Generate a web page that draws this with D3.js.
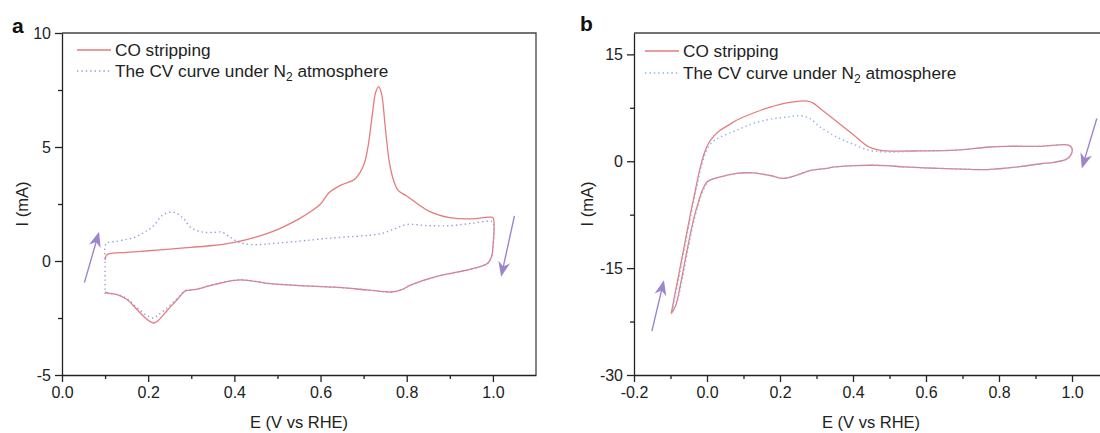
<!DOCTYPE html>
<html>
<head>
<meta charset="utf-8">
<script src="https://cdn.jsdelivr.net/npm/d3@7/dist/d3.min.js"></script>
<style>
  body { margin: 0; background: #fff; }
  svg { display: block; font-family: "Liberation Sans", Arial, sans-serif; }
  .axis text { font-size: 16px; fill: #222; }
  .axis path, .axis line { stroke: #222; stroke-width: 1.3; }
  .frame { stroke: #444; stroke-width: 1.3; fill: none; }
  .legend-text { font-size: 17.2px; fill: #222; }
  .axis-title { font-size: 16.5px; fill: #222; }
  .panel-label { font-size: 21px; font-weight: bold; fill: #111; }
</style>
</head>
<body>
<div id="chart"></div>
<script>
// ---- panel a : CO stripping vs N2 CV (E in V vs RHE, I in mA)
const aCoE = [0.100, 0.103, 0.110, 0.15, 0.20, 0.25, 0.30, 0.35, 0.40, 0.45, 0.50, 0.55, 0.58, 0.60, 0.62, 0.65,
    0.68, 0.70, 0.71, 0.72, 0.728, 0.735, 0.742, 0.75, 0.76, 0.77, 0.78, 0.80, 0.85, 0.90, 0.95, 0.99, 1.000,
    1.000, 0.997, 0.988, 0.97, 0.942, 0.90, 0.864, 0.81, 0.787, 0.763, 0.709, 0.632, 0.554, 0.477, 0.415,
    0.36, 0.321, 0.302, 0.287, 0.267, 0.244, 0.221, 0.213, 0.198, 0.174, 0.151, 0.128, 0.104, 0.100];
const aCoI = [0.05, 0.25, 0.32, 0.38, 0.45, 0.52, 0.6, 0.68, 0.82, 1.05, 1.38, 1.85, 2.2, 2.5, 3.0, 3.35,
    3.6, 4.2, 5.0, 6.4, 7.4, 7.65, 7.3, 5.9, 4.3, 3.5, 3.1, 2.85, 2.2, 1.9, 1.85, 1.92, 1.9,
    0.6, 0.2, -0.1, -0.25, -0.39, -0.55, -0.71, -1.05, -1.27, -1.36, -1.27, -1.15, -1.08, -0.98, -0.83,
    -1.0, -1.2, -1.27, -1.3, -1.7, -2.17, -2.65, -2.72, -2.57, -2.13, -1.69, -1.47, -1.4, -1.35];

const aN2E = [0.100, 0.100, 0.100, 0.105, 0.123, 0.15, 0.17, 0.19, 0.21, 0.233, 0.256, 0.28, 0.30, 0.326, 0.35,
    0.37, 0.39, 0.41, 0.44, 0.51, 0.62, 0.74, 0.77, 0.80, 0.85, 0.90, 0.95, 0.995, 1.000,
    1.000, 0.997, 0.988, 0.97, 0.942, 0.90, 0.864, 0.81, 0.787, 0.763, 0.709, 0.632, 0.554, 0.477, 0.415,
    0.36, 0.321, 0.302, 0.287, 0.267, 0.244, 0.221, 0.213, 0.198, 0.174, 0.151, 0.128, 0.104, 0.100];
const aN2I = [-1.45, 0.0, 0.65, 0.8, 0.85, 0.95, 1.05, 1.25, 1.5, 2.0, 2.15, 1.9, 1.45, 1.27, 1.25,
    1.27, 1.05, 0.83, 0.72, 0.8, 1.0, 1.2, 1.4, 1.6, 1.55, 1.55, 1.65, 1.75, 1.7,
    0.6, 0.2, -0.1, -0.25, -0.39, -0.55, -0.71, -1.05, -1.27, -1.36, -1.27, -1.15, -1.08, -0.98, -0.83,
    -1.0, -1.2, -1.27, -1.3, -1.65, -2.05, -2.4, -2.5, -2.4, -2.05, -1.65, -1.47, -1.42, -1.45];

// ---- panel b
const bCoE = [-0.098, -0.080, -0.062, -0.045, -0.030, -0.018, -0.007, 0.005, 0.020, 0.036, 0.06,
    0.081, 0.127, 0.173, 0.218, 0.25, 0.275, 0.29, 0.31, 0.35, 0.397, 0.444, 0.47, 0.492, 0.586, 0.68, 0.774,
    0.821, 0.915, 0.991, 1.000, 0.997, 0.985, 0.95, 0.915, 0.858, 0.80, 0.766, 0.70, 0.633, 0.539, 0.49,
    0.407, 0.35, 0.328, 0.282, 0.246, 0.209, 0.173, 0.127, 0.081, 0.036, 0.015, 0.000, -0.012, -0.024,
    -0.035, -0.052, -0.070, -0.086, -0.098];
const bCoI = [-21.4, -16.6, -11.8, -7.3, -3.6, -0.8, 1.2, 2.6, 3.6, 4.35, 5.1,
    5.75, 6.77, 7.6, 8.2, 8.4, 8.45, 8.2, 7.4, 5.8, 3.9, 2.0, 1.6, 1.45, 1.45, 1.55, 2.0,
    2.1, 2.1, 2.25, 1.8, 0.9, 0.3, -0.15, -0.35, -0.75, -1.05, -1.17, -1.1, -1.0, -0.8, -0.6,
    -0.6, -0.8, -1.0, -1.3, -1.95, -2.4, -2.0, -1.64, -1.7, -2.2, -2.5, -2.9, -4.0, -5.8,
    -7.8, -11.8, -16.6, -20.3, -21.4];

const bN2E = [-0.096, -0.078, -0.060, -0.043, -0.028, -0.016, -0.005, 0.006, 0.020, 0.036,
    0.081, 0.127, 0.173, 0.218, 0.255, 0.282, 0.31, 0.355, 0.397, 0.444, 0.492, 0.586, 0.68, 0.774,
    0.821, 0.915, 0.991, 1.000, 0.997, 0.985, 0.95, 0.915, 0.858, 0.80, 0.766, 0.70, 0.633, 0.539, 0.49,
    0.407, 0.35, 0.328, 0.282, 0.246, 0.209, 0.173, 0.127, 0.081, 0.036, 0.015, 0.002, -0.010, -0.022,
    -0.033, -0.050, -0.068, -0.084, -0.096];
const bN2I = [-21.0, -16.6, -11.8, -7.3, -3.6, -0.8, 1.0, 2.2, 2.9, 3.4,
    4.35, 5.3, 5.9, 6.2, 6.4, 6.0, 4.8, 3.4, 2.48, 1.55, 1.3, 1.45, 1.55, 2.0,
    2.1, 2.1, 2.25, 1.8, 0.9, 0.3, -0.15, -0.35, -0.75, -1.05, -1.17, -1.1, -1.0, -0.8, -0.6,
    -0.6, -0.8, -1.0, -1.3, -1.95, -2.4, -2.0, -1.64, -1.7, -2.2, -2.5, -2.9, -4.0, -5.8,
    -7.8, -11.8, -16.6, -20.0, -21.0];

// ticks
const aTicksX = [0, 0.2, 0.4, 0.6, 0.8, 1.0];
const aMinorX = [0.1, 0.3, 0.5, 0.7, 0.9];
const aTicksY = [-5, 0, 5, 10];
const aMinorY = [-2.5, 2.5, 7.5];
const bTicksX = [-0.2, 0, 0.2, 0.4, 0.6, 0.8, 1.0];
const bMinorX = [-0.1, 0.1, 0.3, 0.5, 0.7, 0.9];
const bTicksY = [-30, -15, 0, 15];
const bMinorY = [-22.5, -7.5, 7.5];

// scan direction arrows [E0, I0, E1, I1]
const aArrows = [[0.052, -0.95, 0.086, 1.28], [1.05, 1.98, 1.019, -0.69]];
const bArrows = [[-0.151, -23.85, -0.118, -16.7], [1.068, 6.0, 1.027, -1.0]];

const seriesNames = ["CO stripping", "The CV curve under N", "2", " atmosphere"];
const xTitle = "E (V vs RHE)";
const yTitle = "I (mA)";

class CvPanel {

    constructor(svg, cfg) {
        this.svg = svg;
        this.cfg = cfg;
        this.initVis();
    }

    initVis() {
        let vis = this;
        let c = vis.cfg;

        vis.g = vis.svg.append("g");

        vis.x = d3.scaleLinear().domain(c.xDomain).range([c.left, c.right]);
        vis.y = d3.scaleLinear().domain(c.yDomain).range([c.bottom, c.top]);

        // frame (top / right)
        vis.g.append("path")
            .attr("class", "frame")
            .attr("d", `M${c.left},${c.top}H${c.right}V${c.bottom}`);

        // minor ticks first, then major axis
        vis.g.append("g").attr("class", "axis")
            .attr("transform", `translate(0,${c.bottom})`)
            .call(d3.axisBottom(vis.x).tickValues(c.minorX).tickSize(4).tickFormat(""))
            .select(".domain").remove();
        vis.g.append("g").attr("class", "axis")
            .attr("transform", `translate(${c.left},0)`)
            .call(d3.axisLeft(vis.y).tickValues(c.minorY).tickSize(4).tickFormat(""))
            .select(".domain").remove();

        vis.g.append("g").attr("class", "axis")
            .attr("transform", `translate(0,${c.bottom})`)
            .call(d3.axisBottom(vis.x).tickValues(c.ticksX).tickSize(7).tickSizeOuter(0)
                .tickPadding(5).tickFormat(d => d.toFixed(1)));
        vis.g.append("g").attr("class", "axis")
            .attr("transform", `translate(${c.left},0)`)
            .call(d3.axisLeft(vis.y).tickValues(c.ticksY).tickSize(7).tickSizeOuter(0)
                .tickPadding(4).tickFormat(d => String(d)));

        // titles
        vis.g.append("text")
            .attr("class", "axis-title")
            .attr("text-anchor", "middle")
            .attr("x", (c.left + Math.min(c.right, 1108)) / 2)
            .attr("y", 428)
            .text(xTitle);
        vis.g.append("text")
            .attr("class", "axis-title")
            .attr("text-anchor", "middle")
            .attr("transform", `translate(${c.yTitleX},${(c.top + c.bottom) / 2}) rotate(-90)`)
            .text(yTitle);

        vis.g.append("text")
            .attr("class", "panel-label")
            .attr("x", c.labelX)
            .attr("y", c.labelY)
            .text(c.label);

        // curves
        vis.line = d3.line()
            .x(d => vis.x(d[0]))
            .y(d => vis.y(d[1]))
            .curve(d3.curveCatmullRom.alpha(0.5));

        let co = d3.zip(c.coE, c.coI);
        let n2 = d3.zip(c.n2E, c.n2I);

        vis.g.append("path")
            .datum(co)
            .attr("fill", "none")
            .attr("stroke", "#e77b7e")
            .attr("stroke-width", 1.3)
            .attr("d", vis.line);

        vis.g.append("path")
            .datum(n2)
            .attr("fill", "none")
            .attr("stroke", c.n2Color)
            .attr("stroke-width", 1.4)
            .attr("stroke-dasharray", "1.4,3")
            .attr("d", vis.line);

        // arrows
        c.arrows.forEach(a => {
            let x0 = vis.x(a[0]), y0 = vis.y(a[1]), x1 = vis.x(a[2]), y1 = vis.y(a[3]);
            let ang = Math.atan2(y1 - y0, x1 - x0) * 180 / Math.PI;
            vis.g.append("line")
                .attr("x1", x0).attr("y1", y0)
                .attr("x2", x0 + (x1 - x0) * 0.85).attr("y2", y0 + (y1 - y0) * 0.85)
                .attr("stroke", "#9d85cc")
                .attr("stroke-width", 1.4);
            vis.g.append("path")
                .attr("d", "M0,0L-15,-6L-10.5,0L-15,6Z")
                .attr("fill", "#9d85cc")
                .attr("transform", `translate(${x1},${y1}) rotate(${ang})`);
        });

        // legend
        let lg = vis.g.append("g");
        lg.append("line")
            .attr("x1", c.legX).attr("x2", c.legX + 34)
            .attr("y1", c.legY).attr("y2", c.legY)
            .attr("stroke", "#e77b7e").attr("stroke-width", 1.3);
        lg.append("text")
            .attr("class", "legend-text")
            .attr("x", c.legX + 38).attr("y", c.legY + 6)
            .text(seriesNames[0]);
        lg.append("line")
            .attr("x1", c.legX).attr("x2", c.legX + 34)
            .attr("y1", c.legY + c.legGap).attr("y2", c.legY + c.legGap)
            .attr("stroke", c.n2Color).attr("stroke-width", 1.4)
            .attr("stroke-dasharray", "1.4,3");
        let t = lg.append("text")
            .attr("class", "legend-text")
            .attr("x", c.legX + 38).attr("y", c.legY + c.legGap + 6);
        t.append("tspan").text(seriesNames[1]);
        t.append("tspan").attr("dy", 4).style("font-size", "12px").text(seriesNames[2]);
        t.append("tspan").attr("dy", -4).text(seriesNames[3]);
    }
}

const svg = d3.select("#chart").append("svg")
    .attr("width", 1100)
    .attr("height", 433);

new CvPanel(svg, {
    label: "a", labelX: 12, labelY: 33,
    left: 62, right: 536, top: 33, bottom: 375,
    xDomain: [0, 1.1], yDomain: [-5, 10],
    ticksX: aTicksX, minorX: aMinorX, ticksY: aTicksY, minorY: aMinorY,
    coE: aCoE, coI: aCoI, n2E: aN2E, n2I: aN2I,
    n2Color: "#9d98dc",
    arrows: aArrows,
    yTitleX: 28,
    legX: 77, legY: 50, legGap: 21
});

new CvPanel(svg, {
    label: "b", labelX: 580, labelY: 31,
    left: 634, right: 1108.5, top: 33, bottom: 375,
    xDomain: [-0.2, 1.1], yDomain: [-30, 18],
    ticksX: bTicksX, minorX: bMinorX, ticksY: bTicksY, minorY: bMinorY,
    coE: bCoE, coI: bCoI, n2E: bN2E, n2I: bN2I,
    n2Color: "#8db1e6",
    arrows: bArrows,
    yTitleX: 593,
    legX: 645, legY: 51, legGap: 22
});
</script>
</body>
</html>
